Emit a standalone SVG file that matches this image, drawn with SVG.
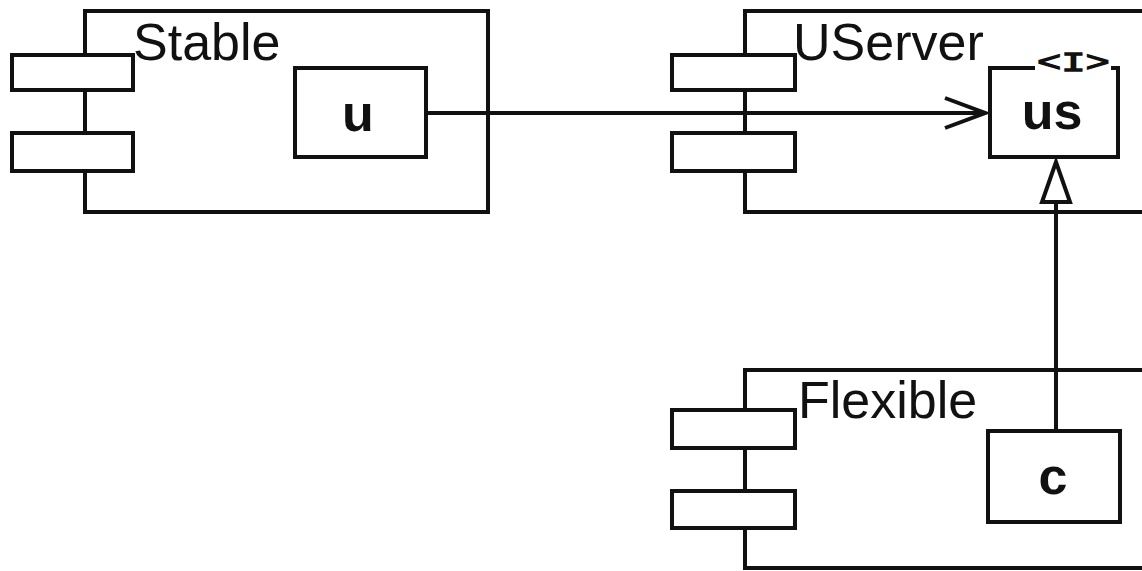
<svg xmlns="http://www.w3.org/2000/svg" width="1142" height="571" viewBox="0 0 1142 571">
<style>
.ln{fill:none;stroke:#111;stroke-width:4;stroke-linejoin:miter}
.box{fill:#fff;stroke:#111;stroke-width:4}
.name{font-family:"Liberation Sans",Arial,sans-serif;font-size:52px;fill:#111}
.obj{font-family:"Liberation Sans",Arial,sans-serif;font-size:52px;font-weight:bold;fill:#111;text-anchor:middle}
.stereo{font-family:"Liberation Mono","Courier New",monospace;font-size:27px;fill:#111;stroke:#111;stroke-width:1.3}
</style>
<defs>
<marker id="open" markerUnits="userSpaceOnUse" markerWidth="46" markerHeight="34" refX="42" refY="17" orient="auto">
<path d="M2,2 L42,17 L2,32" fill="none" stroke="#111" stroke-width="4"/>
</marker>
</defs>
<rect width="1142" height="571" fill="#fff"/>

<g id="Stable">
<path class="ln" d="M85,55 V11 H488 V212 H85 V171"/>
<line class="ln" x1="85" y1="90" x2="85" y2="132"/>
<rect class="box" x="12" y="55" width="121" height="35"/>
<rect class="box" x="12" y="133" width="121" height="38"/>
<text class="name" x="133" y="60">Stable</text>
</g>

<g id="u">
<rect class="box" x="295" y="68" width="131" height="89"/>
<text class="obj" x="358" y="131">u</text>
</g>

<g id="UServer">
<path class="ln" d="M745,55 V11 H1146 M1146,212 H745 V171"/>
<line class="ln" x1="745" y1="90" x2="745" y2="132"/>
<rect class="box" x="672" y="55" width="123" height="35"/>
<rect class="box" x="672" y="133" width="123" height="38"/>
<text class="name" x="793" y="60">UServer</text>
</g>

<g id="us">
<path class="ln" d="M1035,68 H990 V157 H1118 V68 H1111"/>
<text class="stereo" transform="translate(1037,71) scale(1.5,1)">&lt;I&gt;</text>
<text class="obj" x="1052" y="129">us</text>
</g>

<g id="Flexible">
<path class="ln" d="M745,410 V370 H1146 M1146,568 H745 V528"/>
<line class="ln" x1="745" y1="448" x2="745" y2="491"/>
<rect class="box" x="672" y="410" width="123" height="38"/>
<rect class="box" x="672" y="491" width="123" height="37"/>
<text class="name" x="798" y="418">Flexible</text>
</g>

<g id="c">
<rect class="box" x="988" y="431" width="132" height="91"/>
<text class="obj" x="1053" y="494">c</text>
</g>

<g id="connectors">
<line class="ln" x1="426" y1="113" x2="985" y2="113" marker-end="url(#open)"/>
<line class="ln" x1="1056" y1="431" x2="1056" y2="202"/>
<polygon class="box" points="1056,162 1042,202 1070,202"/>
</g>
</svg>
